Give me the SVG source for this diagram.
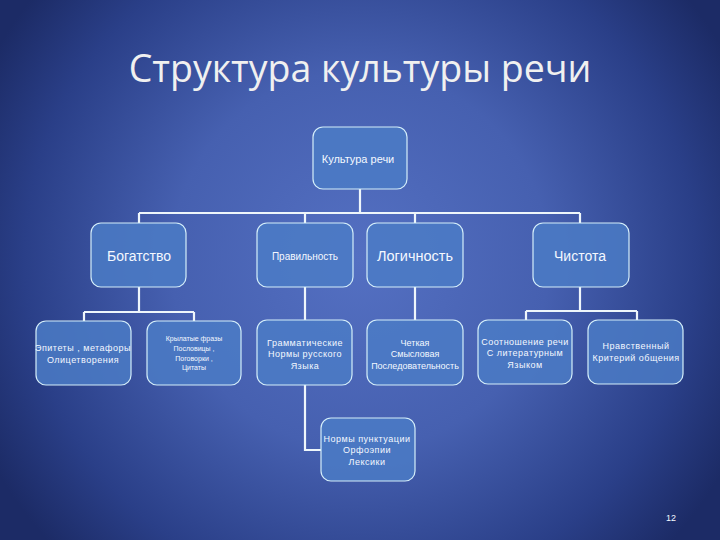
<svg xmlns="http://www.w3.org/2000/svg" width="720" height="540" viewBox="0 0 720 540">
<defs>
<radialGradient id="bg" cx="360" cy="260" r="420" gradientUnits="userSpaceOnUse">
<stop offset="0" stop-color="#5470c2"/>
<stop offset="0.45" stop-color="#4660b0"/>
<stop offset="0.8" stop-color="#2a3f88"/>
<stop offset="1" stop-color="#1c2b66"/>
</radialGradient>
<style>
.box{fill:#4b7bc6;fill-opacity:0.85;stroke:#d4eefa;stroke-width:1.2}
.ln{stroke:#eef6fb;stroke-width:2.2;fill:none}
.t{font-family:"Liberation Sans",Arial,sans-serif;fill:#f4f8ff;text-anchor:middle}
.s{letter-spacing:0.5px}
</style>
</defs>
<rect width="720" height="540" fill="url(#bg)"/>
<text x="360" y="82" class="t" style="font-family:'Open Sans','Liberation Sans',sans-serif;font-size:37.5px;fill:#f0f0f0">Структура культуры речи</text>
<g id="connectors">
<path class="ln" d="M360 189 V213 M139 213 H580 M139 213 V223 M305 213 V223 M415 213 V223 M580 213 V223"/>
<path class="ln" d="M139 287 V312 M84 312 H194 M84 312 V321 M194 312 V321"/>
<path class="ln" d="M305 287 V320 M415 287 V320"/>
<path class="ln" d="M580 287 V311 M526 311 H637 M526 311 V320 M637 311 V320"/>
<path class="ln" d="M305 385 V450 H321"/>
</g>
<g id="root"><rect class="box" x="313" y="127" width="94" height="62" rx="10"/><text class="t" x="358" y="163" font-size="11">Культура речи</text></g>
<g id="bogatstvo"><rect class="box" x="91" y="223" width="95" height="64" rx="10"/><text class="t" x="139" y="261" font-size="14">Богатство</text></g>
<g id="pravilnost"><rect class="box" x="257" y="223" width="96" height="64" rx="10"/><text class="t" x="305" y="260" font-size="10">Правильность</text></g>
<g id="logichnost"><rect class="box" x="367" y="223" width="96" height="64" rx="10"/><text class="t" x="415" y="261" font-size="14.5">Логичность</text></g>
<g id="chistota"><rect class="box" x="533" y="223" width="96" height="64" rx="10"/><text class="t" x="580" y="261" font-size="14">Чистота</text></g>
<g id="epitety"><rect class="box" x="36" y="321" width="95" height="64" rx="10"/><text class="t s" font-size="9"><tspan x="83" y="351">Эпитеты , метафоры</tspan><tspan x="83" y="363">Олицетворения</tspan></text></g>
<g id="krylatye"><rect class="box" x="147" y="321" width="94" height="64" rx="10"/><text class="t" font-size="7"><tspan x="194" y="341">Крылатые фразы</tspan><tspan x="194" y="351">Пословицы ,</tspan><tspan x="194" y="361">Поговорки ,</tspan><tspan x="194" y="370">Цитаты</tspan></text></g>
<g id="grammat"><rect class="box" x="257" y="320" width="95" height="65" rx="10"/><text class="t s" font-size="9"><tspan x="305" y="346">Грамматические</tspan><tspan x="305" y="357">Нормы русского</tspan><tspan x="305" y="369">Языка</tspan></text></g>
<g id="chetkaya"><rect class="box" x="367" y="320" width="96" height="65" rx="10"/><text class="t" font-size="9"><tspan x="415" y="346">Четкая</tspan><tspan x="415" y="357">Смысловая</tspan><tspan x="415" y="369">Последовательность</tspan></text></g>
<g id="sootnoshenie"><rect class="box" x="478" y="320" width="94" height="64" rx="10"/><text class="t s" font-size="9"><tspan x="525" y="345">Соотношение речи</tspan><tspan x="525" y="356">С литературным</tspan><tspan x="525" y="368">Языком</tspan></text></g>
<g id="nravstv"><rect class="box" x="588" y="320" width="95" height="64" rx="10"/><text class="t s" font-size="9"><tspan x="636" y="349">Нравственный</tspan><tspan x="636" y="361">Критерий общения</tspan></text></g>
<g id="normy"><rect class="box" x="321" y="418" width="94" height="63" rx="10"/><text class="t s" font-size="9"><tspan x="367" y="442">Нормы пунктуации</tspan><tspan x="367" y="453">Орфоэпии</tspan><tspan x="367" y="465">Лексики</tspan></text></g>
<text class="t" x="671" y="521" font-size="9">12</text>
</svg>
